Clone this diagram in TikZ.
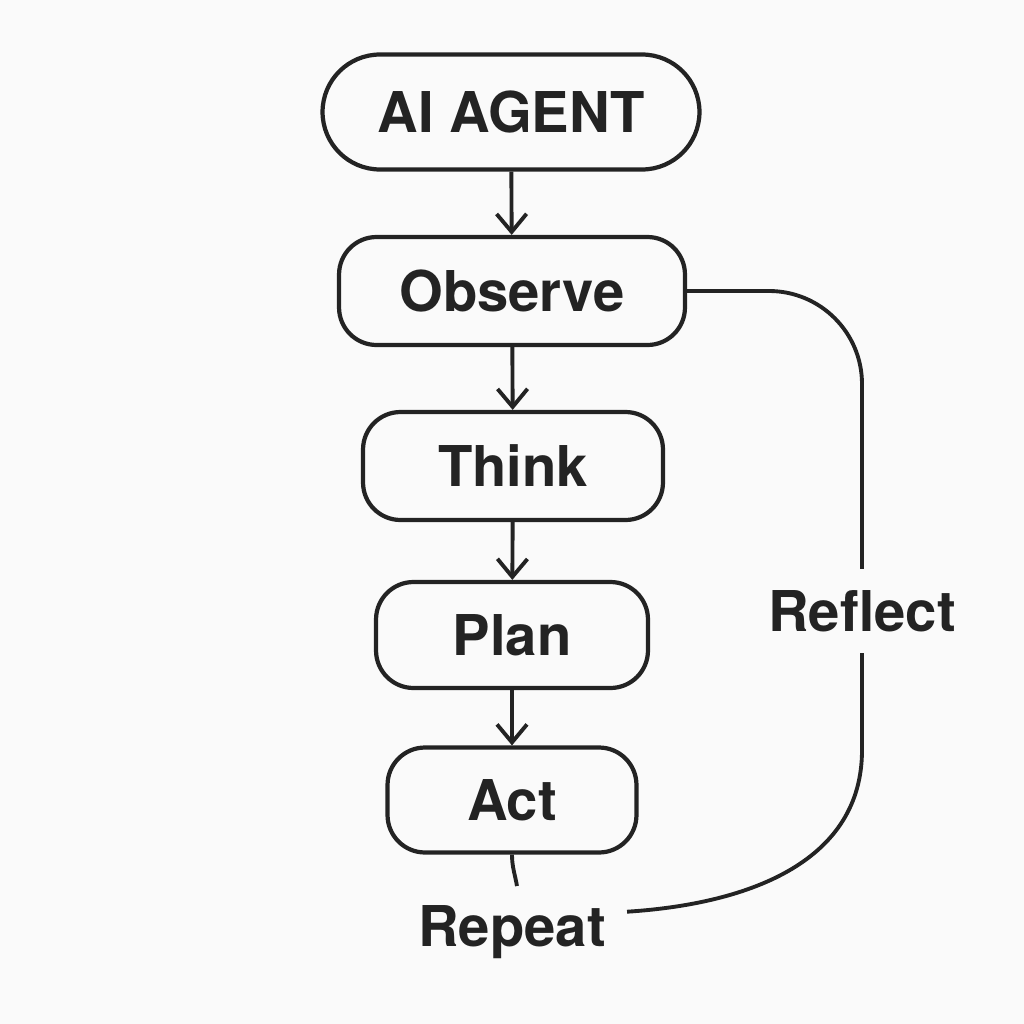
\documentclass[tikz,border=0pt]{standalone}
\usepackage{fontspec}
\setmainfont{TeX Gyre Heros}
\usepackage{xcolor}
\usepackage{tikz}
\usetikzlibrary{arrows.meta, calc}
\definecolor{ink}{RGB}{35,35,35}
\definecolor{paper}{RGB}{250,250,250}

\begin{document}
\begin{tikzpicture}[
        x=0.02cm, y=-0.02cm,
        box/.style={rectangle, draw=ink, line width=2.4pt, fill=paper, rounded corners=0.75cm, text=ink, font=\fontsize{32}{38}\selectfont\bfseries, inner sep=0pt},
        arrow/.style={draw=ink, line width=2.2pt, -{Straight Barb[length=0.36cm, width=0.6cm]}},
        loopline/.style={draw=ink, line width=2.2pt},
        tag/.style={text=ink, font=\fontsize{32}{38}\selectfont\bfseries, inner sep=0.42cm}
    ]
        \fill[paper] (0,0) rectangle (1024,1024);
        \useasboundingbox (0,0) rectangle (1024,1024);

        \node[box, rounded corners=1.15cm, minimum width=7.54cm, minimum height=2.3cm] (agent) at (511,112) {AI AGENT};
        \node[box, minimum width=6.92cm, minimum height=2.16cm] (observe) at (512,291) {Observe};
        \node[box, minimum width=6.0cm, minimum height=2.16cm] (think) at (513,466) {Think};
        \node[box, minimum width=5.44cm, minimum height=2.12cm] (plan) at (512,635) {Plan};
        \node[box, minimum width=4.98cm, minimum height=2.1cm] (act) at (512,800) {Act};

        \node[tag] (reflect) at (862,611) {Reflect};
        \node[tag] (repeat) at (512,932) {Repeat};
        \coordinate (acttail) at (517,886);

        \draw[arrow] (agent) -- (observe);
        \draw[arrow] (observe) -- (think);
        \draw[arrow] (think) -- (plan);
        \draw[arrow] (plan) -- (act);

        % loop back
        \draw[loopline] (act.south) to[out=-90, in=100] (acttail);
        \draw[loopline, rounded corners=1.86cm] (observe.east) -- (reflect.north |- observe.east) -- (reflect.north);
        \draw[loopline] (reflect.south) -- ++(0,97) .. controls +(0,110) and +(125,-8) .. (repeat.10);
    \end{tikzpicture}
\end{document}
